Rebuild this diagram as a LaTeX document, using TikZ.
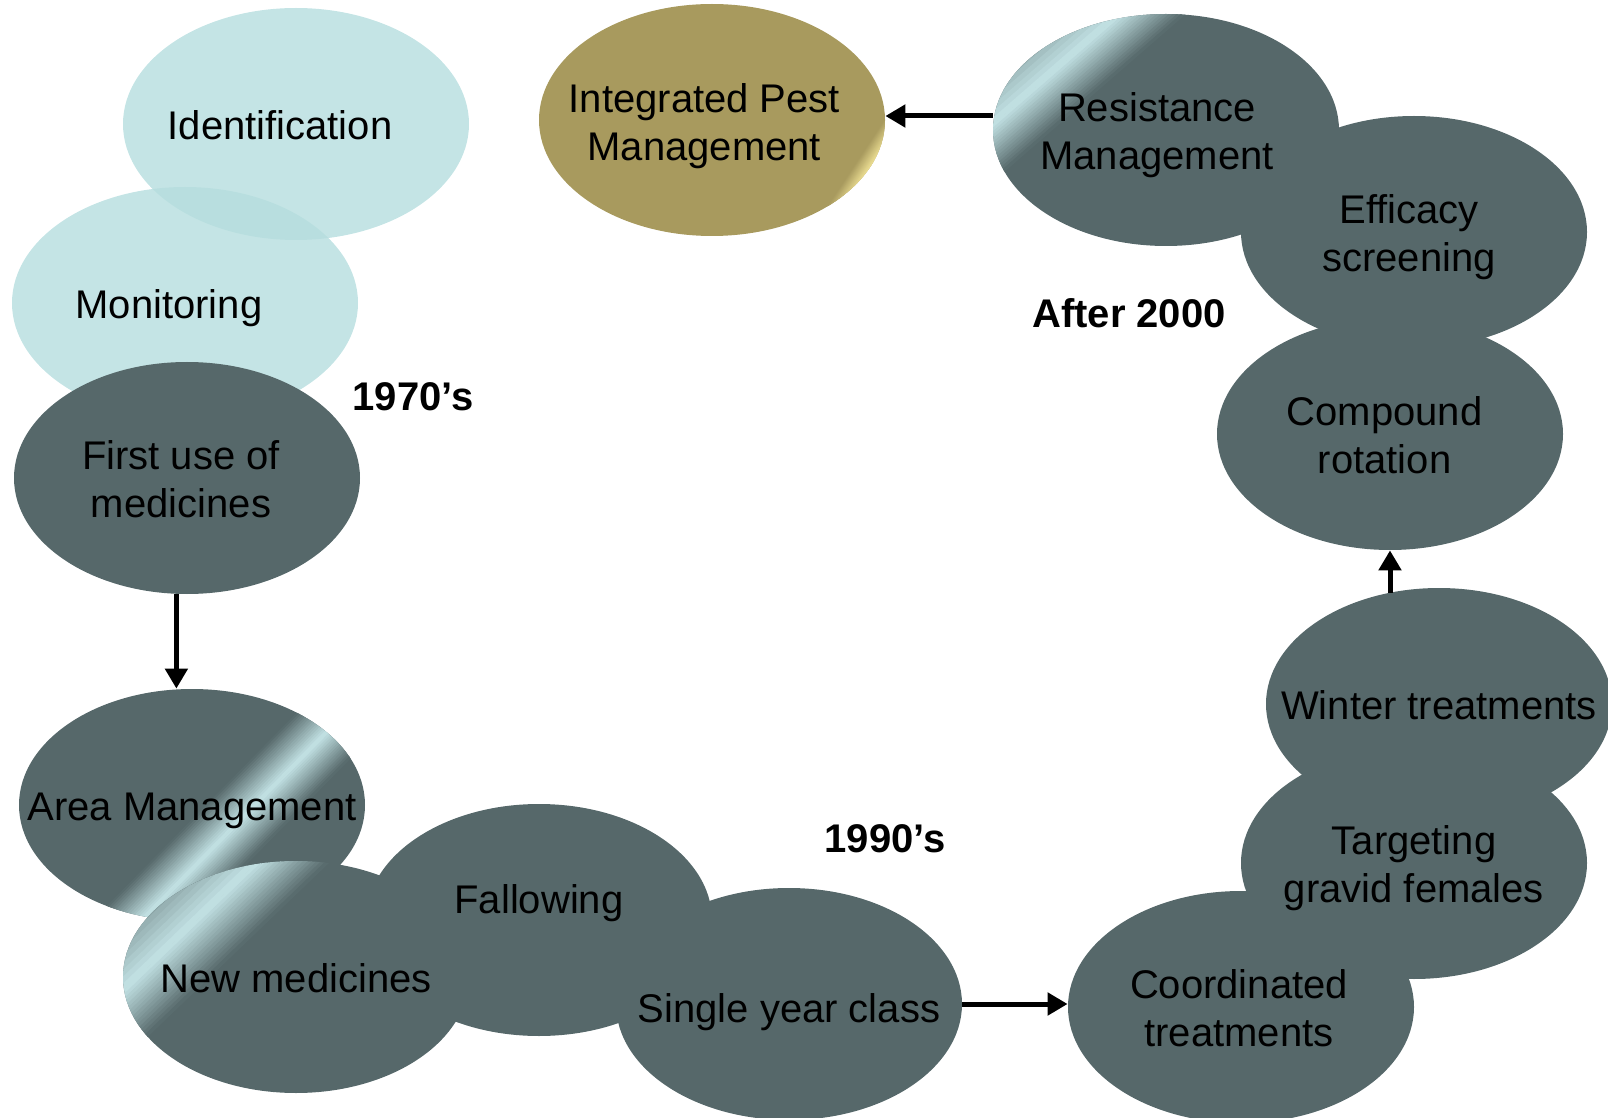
\documentclass[tikz,border=0pt]{standalone}
\usepackage{fontspec}
\setmainfont{Liberation Sans}
\usetikzlibrary{shapes.geometric,arrows.meta,calc}

\definecolor{slate}{RGB}{86,104,106}
\definecolor{mist}{RGB}{196,228,230}
\definecolor{haze}{RGB}{181,221,222}
\definecolor{ochre}{RGB}{168,154,94}
\definecolor{straw}{RGB}{236,222,146}

\tikzset{
  blob/.style={ellipse, minimum width=173pt, minimum height=116pt, inner sep=0pt, fill=slate},
  pale/.style={blob, fill=haze, fill opacity=0.8},
  word/.style={font=\fontsize{20}{24}\selectfont, align=center, text height=19.2pt, text depth=4pt},
  words/.style={word, text height=43.2pt},
  era/.style={font=\fontsize{20}{24}\selectfont\bfseries},
  flow/.style={->, line width=2.5pt},
  % light band across the node, built from thin strips:
  % angle, start, peak, end, light colour, base colour
  band/.style n args={6}{path picture={
      \coordinate (o) at (path picture bounding box.center);
      \pgfmathsetmacro\along{#1+90}
      \foreach \k in {0,...,15}{
        \pgfmathsetmacro\lo{#2+(#3-(#2))*\k/16}
        \pgfmathsetmacro\hi{#2+(#3-(#2))*(\k+1)/16+0.6}
        \pgfmathtruncatemacro\pc{100*(\k+0.5)/16}
        \fill[#5!\pc!#6] ($(o)+(#1:\lo)+(\along:300)$) -- ($(o)+(#1:\hi)+(\along:300)$)
                      -- ($(o)+(#1:\hi)+(\along:-300)$) -- ($(o)+(#1:\lo)+(\along:-300)$) -- cycle;
        \pgfmathsetmacro\lo{#3+(#4-(#3))*\k/16}
        \pgfmathsetmacro\hi{#3+(#4-(#3))*(\k+1)/16+0.6}
        \pgfmathtruncatemacro\pc{100-100*(\k+0.5)/16}
        \fill[#5!\pc!#6] ($(o)+(#1:\lo)+(\along:300)$) -- ($(o)+(#1:\hi)+(\along:300)$)
                      -- ($(o)+(#1:\hi)+(\along:-300)$) -- ($(o)+(#1:\lo)+(\along:-300)$) -- cycle;
      }}}
}

\begin{document}
\begin{tikzpicture}[x=0.5pt, y=0.5pt, >={Triangle[length=10pt,width=11pt]}]
    \useasboundingbox (0,0) rectangle (1608,-1118);

    % 1970's
    \node[pale, label={[word,xshift=-8pt]center:Identification}]    (ident)  at (296,-124)  {};
    \node[pale, label={[word,xshift=-8pt]center:Monitoring}]        (monit)  at (185,-303)  {};
    \node[blob, label={[words,xshift=-3pt]center:First use of\\medicines}] (fum) at (187,-478) {};
    \node[era]                                                      (y1970)  at (413,-397)  {1970’s};

    % 1990's
    \node[blob, band={-44.5}{10}{45}{80}{mist}{slate},
          label={[word]center:Area Management}]                     (area)   at (192,-805)  {};
    \node[blob, label={[word,yshift=11pt]center:Fallowing}]         (fallow) at (539,-920)  {};
    \node[blob, band={-46.2}{-190}{-110}{-60}{mist}{slate},
          label={[word]center:New medicines}]                       (newmed) at (296,-977)  {};
    \node[blob, label={[word,yshift=-1.8pt]center:Single year class}] (single) at (789,-1004) {};
    \node[era]                                                      (y1990)  at (885,-839)  {1990’s};

    % after 2000
    \node[blob, label={[words,xshift=-1pt]center:Coordinated\\treatments}] (coord) at (1241,-1007) {};
    \node[blob, label={[words]center:Targeting\\gravid females}]    (gravid) at (1414,-863) {};
    \node[blob, label={[word]center:Winter treatments}]             (winter) at (1439,-704) {};
    \node[blob, label={[words,xshift=-2.7pt]center:Compound\\rotation}] (comp) at (1390,-434) {};
    \node[blob, label={[words,xshift=-2.5pt]center:Efficacy\\screening}] (effic) at (1414,-232) {};
    \node[blob, band={-49}{-195}{-118}{-75}{mist}{slate},
          label={[words,xshift=-4.5pt]center:Resistance\\Management}] (resist) at (1166,-130) {};
    \node[blob, fill=ochre, band={-33.4}{144}{158}{300}{straw}{ochre},
          label={[words,xshift=-3.8pt,yshift=-0.8pt]center:Integrated Pest\\Management}] (ipm) at (712,-120) {};
    \node[era]                                                      (y2000)  at (1129,-313) {After 2000};

    \path[flow] ([xshift=-5.3pt]fum.south)                 edge ([xshift=-5.3pt]fum.south |- area.north)
                (single.east)                              edge (single.east -| coord.west)
                ([yshift=-2.5pt]winter.north -| comp.south) edge (comp.south)
                ([yshift=7pt]resist.west)                  edge ([yshift=7pt]resist.west -| ipm.east);
\end{tikzpicture}
\end{document}
